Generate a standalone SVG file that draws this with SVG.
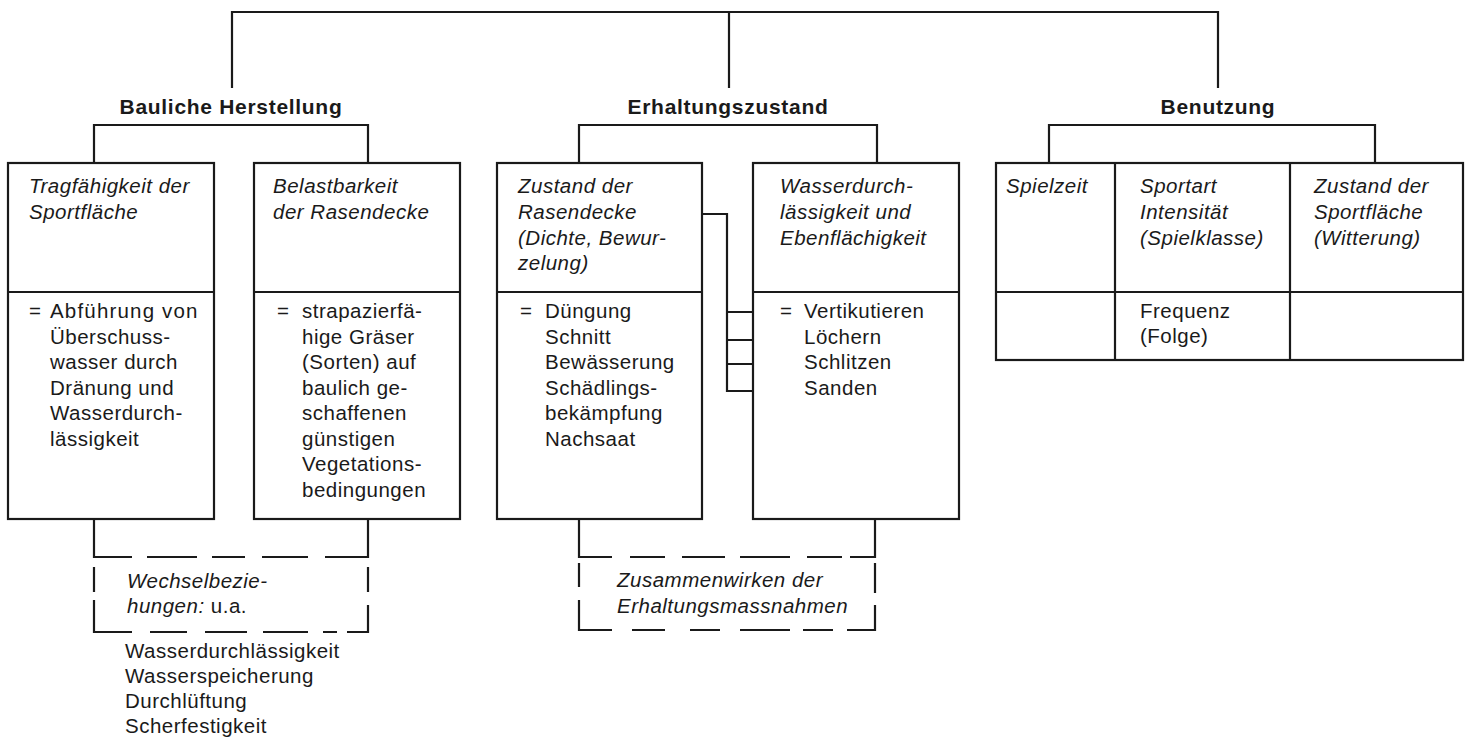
<svg xmlns="http://www.w3.org/2000/svg" width="1470" height="740" viewBox="0 0 1470 740">
<style>
.ln{fill:none;stroke:#1a1a1a;stroke-width:2.2}
.box{fill:#fff;stroke:#1a1a1a;stroke-width:2.2}
.dash{fill:none;stroke:#1a1a1a;stroke-width:2.2}
.t{font-family:"Liberation Sans",Arial,sans-serif;font-size:20.5px;fill:#1a1a1a;letter-spacing:0.5px}
.i{font-style:italic}
.b{font-family:"Liberation Sans",Arial,sans-serif;font-weight:bold;font-size:21px;fill:#1a1a1a;letter-spacing:0.7px}
</style>
<rect width="1470" height="740" fill="#fff"/>
<g id="connectors">
<path class="ln" d="M232,88 V12 H1218 V88 M729,12 V88"/>
<path class="ln" d="M94,163 V125 H368 V163"/>
<path class="ln" d="M579,163 V125 H877 V163"/>
<path class="ln" d="M1049,163 V125 H1375 V163"/>
<path class="ln" d="M702,214 H727 V391 H753 M727,312 H753 M727,340 H753 M727,364 H753"/>
<path class="ln" d="M94,519 V557 H132 M368,519 V557 H325"/>
<path class="ln" d="M579,519 V557 H612 M875,519 V557 H850"/>
<path class="dash" d="M147,557 H197 M212,557 H245 M262,557 H308"/>
<path class="dash" d="M630,557 H665 M682,557 H725 M740,557 H790 M807,557 H842"/>
</g>
<g id="title-bauliche"><text class="b" x="231" y="114" text-anchor="middle">Bauliche Herstellung</text></g>
<g id="title-erhaltung"><text class="b" x="728" y="114" text-anchor="middle">Erhaltungszustand</text></g>
<g id="title-benutzung"><text class="b" x="1218" y="114" text-anchor="middle">Benutzung</text></g>
<g id="box-tragfaehigkeit">
<rect class="box" x="8" y="163" width="206" height="356"/>
<path class="ln" d="M8,292 H214"/>
<text class="t i" x="29" y="193">Tragfähigkeit der</text>
<text class="t i" x="29" y="219">Sportfläche</text>
<text class="t" x="29" y="318">=</text>
<text class="t" x="50" y="318" textLength="148" lengthAdjust="spacing">Abführung von</text>
<text class="t" x="50" y="344">Überschuss-</text>
<text class="t" x="50" y="369">wasser durch</text>
<text class="t" x="50" y="395">Dränung und</text>
<text class="t" x="50" y="420">Wasserdurch-</text>
<text class="t" x="50" y="446">lässigkeit</text>
</g>
<g id="box-belastbarkeit">
<rect class="box" x="254" y="163" width="206" height="356"/>
<path class="ln" d="M254,292 H460"/>
<text class="t i" x="273" y="193">Belastbarkeit</text>
<text class="t i" x="273" y="219">der Rasendecke</text>
<text class="t" x="277" y="318">=</text>
<text class="t" x="302" y="318">strapazierfä-</text>
<text class="t" x="302" y="344">hige Gräser</text>
<text class="t" x="302" y="369">(Sorten) auf</text>
<text class="t" x="302" y="395">baulich ge-</text>
<text class="t" x="302" y="420">schaffenen</text>
<text class="t" x="302" y="446">günstigen</text>
<text class="t" x="302" y="471">Vegetations-</text>
<text class="t" x="302" y="497">bedingungen</text>
</g>
<g id="box-zustand-rasendecke">
<rect class="box" x="497" y="163" width="205" height="356"/>
<path class="ln" d="M497,292 H702"/>
<text class="t i" x="518" y="193">Zustand der</text>
<text class="t i" x="518" y="219">Rasendecke</text>
<text class="t i" x="518" y="245">(Dichte, Bewur-</text>
<text class="t i" x="518" y="270">zelung)</text>
<text class="t" x="520" y="318">=</text>
<text class="t" x="545" y="318">Düngung</text>
<text class="t" x="545" y="344">Schnitt</text>
<text class="t" x="545" y="369">Bewässerung</text>
<text class="t" x="545" y="395">Schädlings-</text>
<text class="t" x="545" y="420">bekämpfung</text>
<text class="t" x="545" y="446">Nachsaat</text>
</g>
<g id="box-wasserdurchlaessigkeit">
<rect class="box" x="753" y="163" width="206" height="356"/>
<path class="ln" d="M753,292 H959"/>
<text class="t i" x="780" y="193">Wasserdurch-</text>
<text class="t i" x="780" y="219">lässigkeit und</text>
<text class="t i" x="780" y="245">Ebenflächigkeit</text>
<text class="t" x="780" y="318">=</text>
<text class="t" x="804" y="318">Vertikutieren</text>
<text class="t" x="804" y="344">Löchern</text>
<text class="t" x="804" y="369">Schlitzen</text>
<text class="t" x="804" y="395">Sanden</text>
</g>
<g id="box-benutzung">
<rect class="box" x="996" y="163" width="467" height="197"/>
<path class="ln" d="M996,292 H1463 M1115,163 V360 M1290,163 V360"/>
<text class="t i" x="1006" y="193">Spielzeit</text>
<text class="t i" x="1140" y="193">Sportart</text>
<text class="t i" x="1140" y="219">Intensität</text>
<text class="t i" x="1140" y="245">(Spielklasse)</text>
<text class="t i" x="1314" y="193">Zustand der</text>
<text class="t i" x="1314" y="219">Sportfläche</text>
<text class="t i" x="1314" y="245">(Witterung)</text>
<text class="t" x="1140" y="318">Frequenz</text>
<text class="t" x="1140" y="343">(Folge)</text>
</g>
<g id="box-wechselbeziehungen">
<path class="dash" d="M94,567 V592 M368,567 V592 M94,600 V632 H132 M368,605 V632 H347 M150,632 H187 M205,632 H247 M263,632 H308 M323,632 H337"/>
<text class="t i" x="127" y="588">Wechselbezie-</text>
<text class="t" x="127" y="613"><tspan class="i">hungen:</tspan> u.a.</text>
<text class="t" x="125" y="658">Wasserdurchlässigkeit</text>
<text class="t" x="125" y="683">Wasserspeicherung</text>
<text class="t" x="125" y="708">Durchlüftung</text>
<text class="t" x="125" y="733">Scherfestigkeit</text>
</g>
<g id="box-zusammenwirken">
<path class="dash" d="M579,563 V587 M875,563 V593 M579,600 V630 H612 M875,605 V630 H847 M632,630 H665 M690,630 H720 M740,630 H790 M803,630 H833"/>
<text class="t i" x="617" y="587">Zusammenwirken der</text>
<text class="t i" x="617" y="613">Erhaltungsmassnahmen</text>
</g>
</svg>
